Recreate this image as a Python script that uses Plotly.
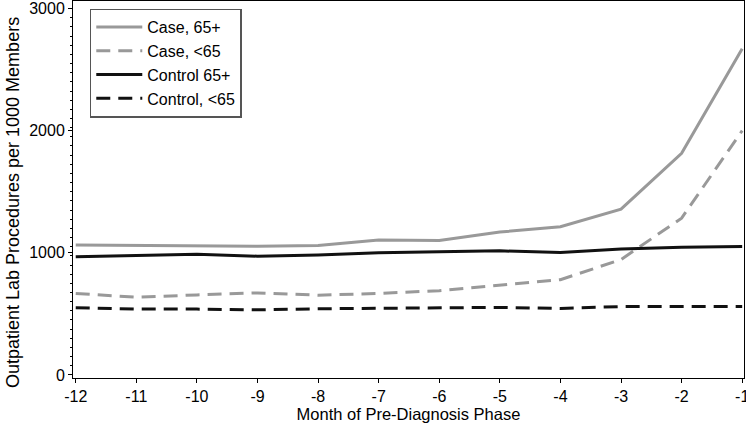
import plotly.graph_objects as go

months = [-12, -11, -10, -9, -8, -7, -6, -5, -4, -3, -2, -1]
case_65 = [1065, 1062, 1058, 1054, 1060, 1105, 1100, 1170, 1214, 1358, 1815, 2670]
case_lt65 = [667, 637, 655, 672, 653, 668, 690, 738, 780, 945, 1284, 2000]
control_65 = [967, 981, 989, 972, 982, 1000, 1010, 1016, 1003, 1032, 1046, 1051]
control_lt65 = [550, 539, 539, 533, 542, 547, 550, 553, 545, 560, 561, 561]
y_ticks = [0, 1000, 2000, 3000]

series = [
    ("Case, 65+", case_65, "#999999", "solid"),
    ("Case, <65", case_lt65, "#999999", "14px,8px"),
    ("Control 65+", control_65, "#111111", "solid"),
    ("Control, <65", control_lt65, "#111111", "14px,8px"),
]

FONT = "Liberation Sans, Arial, Helvetica, sans-serif"

fig = go.Figure()
for name, vals, color, dash in series:
    fig.add_trace(go.Scatter(
        x=months, y=vals, name=name, mode="lines",
        line=dict(color=color, width=3, dash=dash),
    ))

fig.update_layout(
    width=746, height=425,
    margin=dict(l=73, r=2, t=1, b=47),
    paper_bgcolor="white", plot_bgcolor="white",
    font=dict(family=FONT, size=16, color="black"),
    showlegend=True,
    legend=dict(
        x=0.025, y=0.98, xanchor="left", yanchor="top",
        bgcolor="white", bordercolor="#555555", borderwidth=1.5,
        font=dict(family=FONT, size=16, color="black"),
        tracegroupgap=0, itemwidth=46,
    ),
    annotations=[dict(
        text="Outpatient Lab Procedures per 1000 Members",
        xref="paper", yref="paper", x=-0.0894, y=0.464,
        xanchor="center", yanchor="middle", textangle=-90,
        showarrow=False, font=dict(family=FONT, size=18, color="black"),
    )],
)

fig.update_xaxes(
    range=[-12.045, -0.97], automargin=False,
    tickmode="array", tickvals=months, ticktext=[str(m) for m in months],
    ticks="outside", ticklen=4, tickcolor="black", tickwidth=1,
    showline=True, linecolor="black", linewidth=1, mirror=True,
    showgrid=False, zeroline=False, ticklabeloverflow="allow",
    tickfont=dict(family=FONT, size=16),
    title=dict(text="Month of Pre-Diagnosis Phase", font=dict(family=FONT, size=16.5), standoff=4),
)
fig.update_yaxes(
    range=[-25, 3062], automargin=False,
    tickmode="array", tickvals=y_ticks,
    ticks="outside", ticklen=4, tickcolor="black", tickwidth=1,
    minor=dict(tickmode="linear", tick0=0, dtick=75, ticks="outside", ticklen=2, tickcolor="black", showgrid=False),
    showline=True, linecolor="black", linewidth=1, mirror=True,
    showgrid=False, zeroline=False, ticklabeloverflow="allow",
    tickfont=dict(family=FONT, size=16),
)

fig.write_html("out.html", config={"displayModeBar": False},
               post_script="document.body.style.margin='0';")
